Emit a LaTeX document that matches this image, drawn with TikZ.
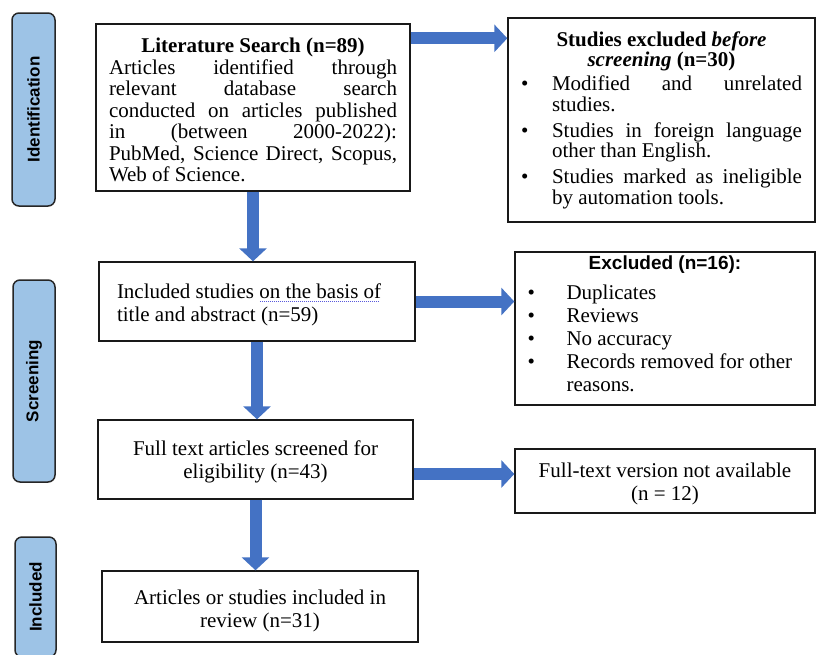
\documentclass[tikz,border=0pt]{standalone}
\usepackage{fontspec}
\setmainfont{Liberation Serif}
\newfontfamily\sansf{Liberation Sans}
\usetikzlibrary{arrows.meta}
\definecolor{phasefill}{RGB}{157,195,230}
\definecolor{arrowblue}{RGB}{68,114,196}
\definecolor{squigblue}{RGB}{90,90,220}
\newcommand{\bul}[1]{\makebox[#1][l]{\textbullet}}
\newcommand{\squig}[1]{\setbox0\hbox{#1}\rlap{\raisebox{-2.5pt}{\textcolor{squigblue}{\leaders\hbox to 2pt{\hss\rule{1pt}{0.7pt}\hss}\hskip\wd0}}}\box0}
\begin{document}
\begin{tikzpicture}[x=1pt,y=-1pt,
  phase/.style={draw=black!85, line width=1.5pt, fill=phasefill, rounded corners=7pt,
    font=\sansf\bfseries\fontsize{17}{20}\selectfont, inner sep=0pt},
  box/.style={draw=black!90, line width=1.4pt, fill=white, inner sep=0pt, align=center,
    font=\fontsize{21}{23}\selectfont},
  flow/.style={draw=arrowblue, line width=12pt, -{Triangle[length=13pt,width=27pt]}}]
\useasboundingbox (0,0) rectangle (816,654);
\fill[white] (0,0) rectangle (816,654);

% phase labels
\node[phase, minimum width=193pt, minimum height=43pt, rotate=90] (pid) at (33.5,109.5) {Identification};
\node[phase, minimum width=202pt, minimum height=42pt, rotate=90] (psc) at (34,381) {Screening};
\node[phase, minimum width=120pt, minimum height=41pt, rotate=90] (pin) at (35.5,597) {Included};

% boxes
\node[box, minimum width=314pt, minimum height=167pt, font=\fontsize{21}{21.5}\selectfont] (ls) at (253,107.5) {%
\rule{0pt}{20pt}\makebox[288pt][c]{\bfseries Literature Search (n=89)}\\
\makebox[288pt][s]{Articles identified through}\\
\makebox[288pt][s]{relevant database search}\\
\makebox[288pt][s]{conducted on articles published}\\
\makebox[288pt][s]{in (between 2000-2022):}\\
\makebox[288pt][s]{PubMed, Science Direct, Scopus,}\\
\makebox[288pt][l]{Web of Science.}};

\node[box, minimum width=307pt, minimum height=204pt, font=\fontsize{21}{20.5}\selectfont] (ex1) at (661.5,120) {%
\makebox[281pt][c]{\bfseries Studies excluded \textit{before}}\\
\makebox[281pt][c]{\bfseries\textit{screening} (n=30)}\\[3.5pt]
\bul{31pt}\makebox[250pt][s]{Modified and unrelated}\\
\hspace*{31pt}\makebox[250pt][l]{studies.}\\[5.5pt]
\bul{31pt}\makebox[250pt][s]{Studies in foreign language}\\
\hspace*{31pt}\makebox[250pt][l]{other than English.}\\[5.5pt]
\bul{31pt}\makebox[250pt][s]{Studies marked as ineligible}\\
\hspace*{31pt}\makebox[250pt][l]{by automation tools.}};

\node[box, minimum width=316pt, minimum height=79pt, font=\fontsize{21}{23}\selectfont] (is) at (257,301.5) {%
\rule{0pt}{22pt}\makebox[280pt][l]{Included studies \squig{on the basis of}}\\
\makebox[280pt][l]{title and abstract (n=59)}};

\node[box, minimum width=300pt, minimum height=153pt, font=\fontsize{21}{23}\selectfont] (ex2) at (665,328.5) {%
\makebox[275pt][c]{\sansf\bfseries\fontsize{19}{23}\selectfont Excluded (n=16):}\\[7pt]
\bul{39pt}\makebox[236pt][l]{Duplicates}\\
\bul{39pt}\makebox[236pt][l]{Reviews}\\
\bul{39pt}\makebox[236pt][l]{No accuracy}\\
\bul{39pt}\makebox[236pt][l]{Records removed for other}\\
\hspace*{39pt}\makebox[236pt][l]{reasons.}\rule[-9pt]{0pt}{0pt}};

\node[box, minimum width=315pt, minimum height=79pt] (ft) at (255.5,459.5) {\rule{0pt}{20.5pt}Full text articles screened for\\eligibility (n=43)};

\node[box, minimum width=300pt, minimum height=64pt] (na) at (665,481) {\rule{0pt}{19.5pt}Full-text version not available\\(n = 12)};

\node[box, minimum width=316pt, minimum height=71pt] (ar) at (260,606.5) {\rule{0pt}{22.5pt}Articles or studies included in\\review (n=31)};

% arrows
\draw[flow] ([yshift=-15pt]ls.north east) -- ([yshift=-15pt]ls.north east -| ex1.west);
\draw[flow] (ls.south) -- (ls.south |- is.north);
\draw[flow] (is.east) -- (is.east -| ex2.west);
\draw[flow] (is.south) -- (is.south |- ft.north);
\draw[flow] ([yshift=-14.5pt]ft.east) -- ([yshift=-14.5pt]ft.east -| na.west);
\draw[flow] (ft.south) -- (ft.south |- ar.north);
\end{tikzpicture}
\end{document}
